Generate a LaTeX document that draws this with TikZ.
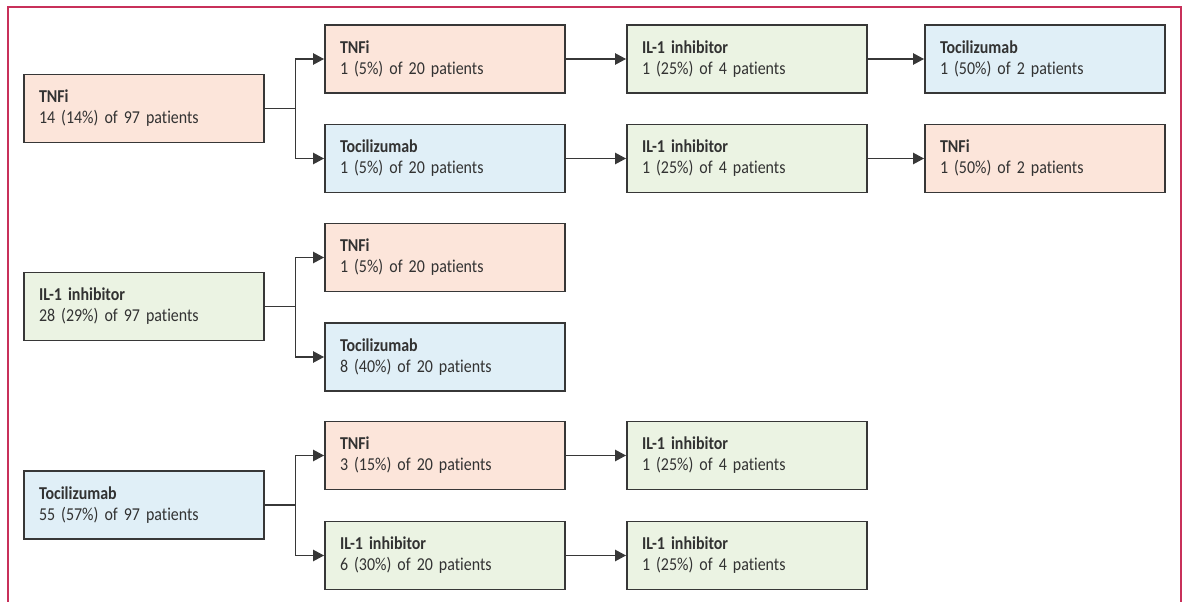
\documentclass[tikz,border=0pt]{standalone}
\usepackage{fontspec}
\setmainfont{Carlito}[FakeStretch=0.88, Ligatures=NoCommon, WordSpace=0.8]
\usetikzlibrary{arrows.meta}
\definecolor{frame}{RGB}{200,48,90}
\definecolor{tnf}{RGB}{252,229,218}
\definecolor{toc}{RGB}{224,239,247}
\definecolor{ilone}{RGB}{235,243,227}
\definecolor{edge}{RGB}{55,55,55}
\definecolor{txt}{RGB}{50,50,50}
\tikzset{
  drug/.style={draw=edge, line width=0.9pt, rectangle, minimum width=180pt, minimum height=51pt,
    text width=157.5pt, inner xsep=11.25pt, align=left, text=txt,
    font=\fontsize{13.6}{15.8}\selectfont},
  tnfbox/.style={drug, fill=tnf},
  tocbox/.style={drug, fill=toc},
  ilbox/.style={drug, fill=ilone},
  conn/.style={draw=edge, line width=0.8pt},
  arr/.style={conn, -{Triangle[length=8.2pt,width=8.6pt]}, shorten >=0.3pt},
}
\begin{document}
\begin{tikzpicture}[x=0.75pt,y=-0.75pt]
\useasboundingbox (0,0) rectangle (1184,602);
\draw[frame, line width=0.8pt] (8,602) -- (8,7) -- (1181,7) -- (1181,602);
% group 1
\node[tnfbox] (a0) at (144,108.5) {\textbf{TNFi}\\14 (14\%) of 97 patients};
\node[tnfbox] (a1) at (445,59) {\textbf{TNFi}\\1 (5\%) of 20 patients};
\node[tocbox] (a2) at (445,158.5) {\textbf{Tocilizumab}\\1 (5\%) of 20 patients};
\node[ilbox] (a3) at (747,59) {\textbf{IL-1 inhibitor}\\1 (25\%) of 4 patients};
\node[ilbox] (a4) at (747,158.5) {\textbf{IL-1 inhibitor}\\1 (25\%) of 4 patients};
\node[tocbox] (a5) at (1045,59) {\textbf{Tocilizumab}\\1 (50\%) of 2 patients};
\node[tnfbox] (a6) at (1045,158.5) {\textbf{TNFi}\\1 (50\%) of 2 patients};
% group 2
\node[ilbox] (b0) at (144,306.5) {\textbf{IL-1 inhibitor}\\28 (29\%) of 97 patients};
\node[tnfbox] (b1) at (445,257.5) {\textbf{TNFi}\\1 (5\%) of 20 patients};
\node[tocbox] (b2) at (445,357) {\textbf{Tocilizumab}\\8 (40\%) of 20 patients};
% group 3
\node[tocbox] (c0) at (144,505) {\textbf{Tocilizumab}\\55 (57\%) of 97 patients};
\node[tnfbox] (c1) at (445,455.5) {\textbf{TNFi}\\3 (15\%) of 20 patients};
\node[ilbox] (c2) at (445,555.5) {\textbf{IL-1 inhibitor}\\6 (30\%) of 20 patients};
\node[ilbox] (c3) at (747,455.5) {\textbf{IL-1 inhibitor}\\1 (25\%) of 4 patients};
\node[ilbox] (c4) at (747,555.5) {\textbf{IL-1 inhibitor}\\1 (25\%) of 4 patients};
% connectors
\draw[conn] (a0.east) -- ++(31,0) coordinate (ja);
\draw[arr] (ja) |- (a1.west);
\draw[arr] (ja) |- (a2.west);
\draw[arr] (a1) -- (a3);
\draw[arr] (a2) -- (a4);
\draw[arr] (a3) -- (a5);
\draw[arr] (a4) -- (a6);
\draw[conn] (b0.east) -- ++(31,0) coordinate (jb);
\draw[arr] (jb) |- (b1.west);
\draw[arr] (jb) |- (b2.west);
\draw[conn] (c0.east) -- ++(31,0) coordinate (jc);
\draw[arr] (jc) |- (c1.west);
\draw[arr] (jc) |- (c2.west);
\draw[arr] (c1) -- (c3);
\draw[arr] (c2) -- (c4);
\end{tikzpicture}
\end{document}
